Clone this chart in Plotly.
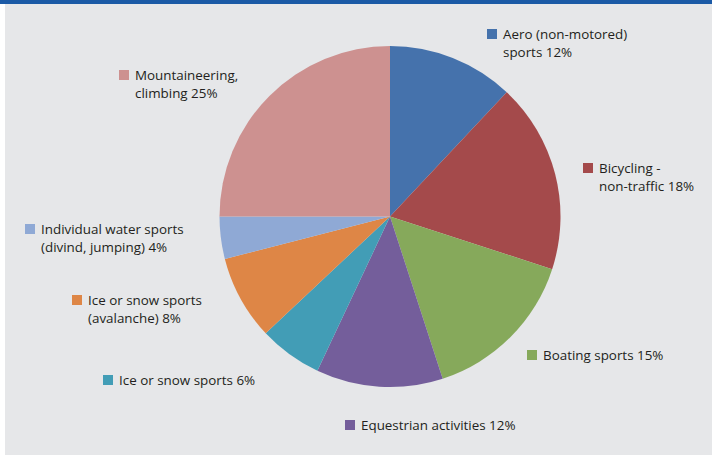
import plotly.graph_objects as go

W, H = 712, 455

categories = ["Aero (non-motored) sports", "Bicycling - non-traffic", "Boating sports",
              "Equestrian activities", "Ice or snow sports", "Ice or snow sports (avalanche)",
              "Individual water sports (divind, jumping)", "Mountaineering, climbing"]
values = [12, 18, 15, 12, 6, 8, 4, 25]
colors = ["#4572ac", "#a44a4b", "#86a95b", "#745e9b", "#429db6", "#de8646", "#8fa9d5", "#cd9190"]
label_lines = [
    ["Aero (non-motored)", "sports 12%"],
    ["Bicycling -", "non-traffic 18%"],
    ["Boating sports 15%"],
    ["Equestrian activities 12%"],
    ["Ice or snow sports 6%"],
    ["Ice or snow sports", "(avalanche) 8%"],
    ["Individual water sports", "(divind, jumping) 4%"],
    ["Mountaineering,", "climbing 25%"],
]
# label anchor (square left x, first line center y) in pixels
label_pos = [(487, 34), (583, 168), (527, 355), (345, 425), (103, 380), (72, 300), (25, 229), (119, 75)]

BG = "#e6e7e9"
TXT = "#231f20"
FONT = "Open Sans"
FS = 13.4
LH = 18

def px(x):
    return x / W

def py(y):
    return 1 - y / H

cx, cy, r = 390, 216.5, 170.5

fig = go.Figure(go.Pie(
    labels=categories, values=values, sort=False, direction="clockwise", rotation=0,
    marker=dict(colors=colors, line=dict(width=0)),
    textinfo="none", hoverinfo="label+percent", showlegend=False,
    domain=dict(x=[px(cx - r), px(cx + r)], y=[py(cy + r), py(cy - r)]),
))

shapes = [
    dict(type="rect", xref="paper", yref="paper", x0=0, x1=px(5), y0=0, y1=1,
         fillcolor="white", line=dict(width=0), layer="below"),
    dict(type="rect", xref="paper", yref="paper", x0=0, x1=1, y0=py(4), y1=1,
         fillcolor="#1b5aa6", line=dict(width=0), layer="above"),
]
annotations = []
for col, lines, (sx, sy) in zip(colors, label_lines, label_pos):
    shapes.append(dict(type="rect", xref="paper", yref="paper",
                       x0=px(sx), x1=px(sx + 10), y0=py(sy + 5), y1=py(sy - 5),
                       fillcolor=col, line=dict(width=0)))
    for i, t in enumerate(lines):
        annotations.append(dict(text=t, xref="paper", yref="paper", x=px(sx + 14), y=py(sy + i * LH),
                                xanchor="left", yanchor="middle", showarrow=False,
                                font=dict(family=FONT, size=FS, color=TXT)))

fig.update_layout(
    width=W, height=H, margin=dict(l=0, r=0, t=0, b=0),
    paper_bgcolor=BG, plot_bgcolor=BG,
    shapes=shapes, annotations=annotations,
)
fig.write_html("out.html", config={"displayModeBar": False},
               post_script="document.body.style.margin='0';document.body.style.overflow='hidden';")
